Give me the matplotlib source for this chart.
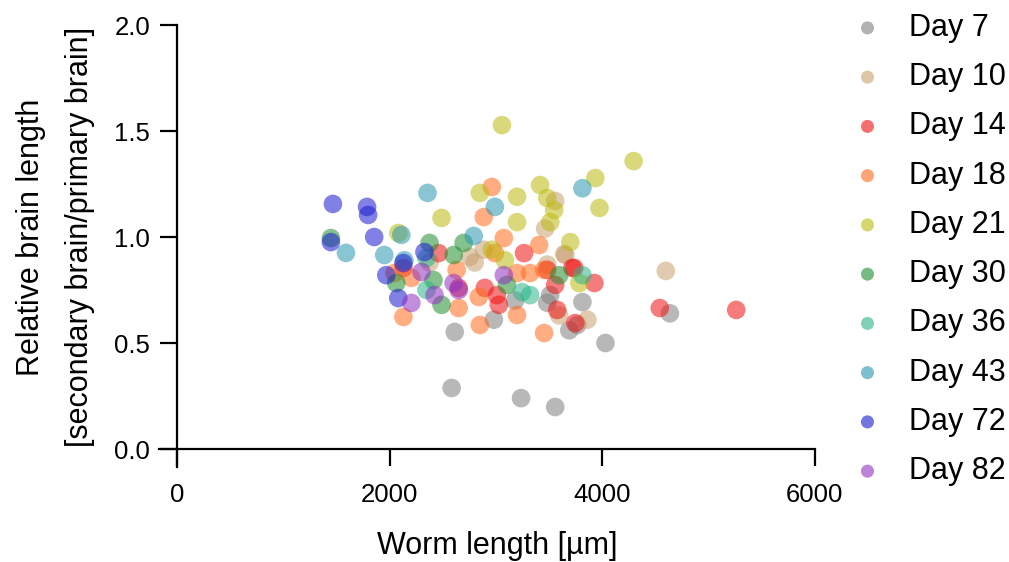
import matplotlib.pyplot as plt

plt.rcParams['font.family'] = ['Liberation Sans', 'DejaVu Sans']

days = ['Day 7', 'Day 10', 'Day 14', 'Day 18', 'Day 21',
        'Day 30', 'Day 36', 'Day 43', 'Day 72', 'Day 82']
colors = ['#7f7f7f', '#c8a070', '#ee1111', '#ff6a1a', '#bbbb11',
          '#1f8f2f', '#2ab58a', '#2a96b2', '#1a1ad0', '#9030c0']

# worm length [um] and relative brain length per day
day7_x = [2583, 3236, 3557, 2612, 2980, 4030, 4636, 3813, 3179, 3510, 3482, 3690, 3765]
day7_y = [0.288, 0.24, 0.198, 0.552, 0.61, 0.50, 0.64, 0.693, 0.70, 0.726, 0.69, 0.56, 0.585]

day10_x = [4598, 3860, 3463, 3557, 3652, 2885, 2800, 2753, 3482, 2375, 3595, 3642]
day10_y = [0.84, 0.61, 1.04, 1.17, 0.915, 0.94, 0.88, 0.906, 0.87, 0.88, 0.63, 0.92]

day14_x = [5260, 4541, 3926, 3737, 3264, 3557, 3576, 3746, 3027, 2895, 2649, 3008,
           2129, 2460, 3482, 3718]
day14_y = [0.656, 0.665, 0.783, 0.854, 0.924, 0.774, 0.656, 0.594, 0.68, 0.76, 0.76,
           0.726, 0.854, 0.924, 0.845, 0.854]

day18_x = [2961, 2885, 3074, 2129, 2848, 3198, 3453, 2630, 2990, 3406, 3321, 3198,
           2204, 2649, 2838, 3453, 2044]
day18_y = [1.236, 1.094, 0.995, 0.623, 0.585, 0.632, 0.547, 0.845, 0.924, 0.962, 0.83,
           0.83, 0.807, 0.665, 0.717, 0.845, 0.83]

day21_x = [3056, 4295, 3935, 3973, 3699, 3415, 3482, 3548, 3510, 3198, 3198, 2848,
           2488, 2081, 3784, 2961, 3084]
day21_y = [1.528, 1.358, 1.278, 1.137, 0.976, 1.245, 1.184, 1.127, 1.07, 1.19, 1.07,
           1.208, 1.09, 1.019, 0.783, 0.94, 0.89]

day30_x = [1447, 2375, 2696, 2412, 2488, 3103, 2062, 3595, 2602]
day30_y = [0.995, 0.972, 0.972, 0.797, 0.68, 0.774, 0.783, 0.82, 0.915]

day36_x = [3321, 3813, 2346, 3245, 2346]
day36_y = [0.726, 0.82, 0.90, 0.74, 0.75]

day43_x = [1589, 2356, 2990, 3813, 2791, 1949, 2138, 2110]
day43_y = [0.925, 1.208, 1.142, 1.23, 1.005, 0.915, 0.89, 1.01]

day72_x = [1466, 1787, 1797, 1854, 1447, 1968, 2081, 2327, 2129]
day72_y = [1.156, 1.142, 1.104, 1.0, 0.976, 0.82, 0.712, 0.929, 0.877]

day82_x = [2204, 2299, 3074, 2602, 2649, 2422]
day82_y = [0.689, 0.835, 0.82, 0.783, 0.75, 0.726]

xs = [day7_x, day10_x, day14_x, day18_x, day21_x, day30_x, day36_x, day43_x, day72_x, day82_x]
ys = [day7_y, day10_y, day14_y, day18_y, day21_y, day30_y, day36_y, day43_y, day72_y, day82_y]

fig = plt.figure(figsize=(10.09, 5.62), dpi=100)
ax = fig.add_axes([0.1576, 0.169, 0.650, 0.7865])

for label, c, x, y in zip(days, colors, xs, ys):
    ax.scatter(x, y, s=180, color=c, alpha=0.55, edgecolors='none', label=label)

ax.set_xlim(-170, 6000)
ax.set_ylim(-0.085, 2.0)
ax.set_xticks([0, 2000, 4000, 6000])
ax.set_yticks([0.0, 0.5, 1.0, 1.5, 2.0])
ax.set_yticklabels(['0.0', '0.5', '1.0', '1.5', '2.0'])

# axes cross at the origin, like a Prism-style plot
ax.spines['left'].set_position(('data', 0))
ax.spines['bottom'].set_position(('data', 0))
ax.spines['top'].set_visible(False)
ax.spines['right'].set_visible(False)
for sp in ['left', 'bottom']:
    ax.spines[sp].set_linewidth(1.6)
ax.tick_params(axis='both', direction='out', length=12.5, width=1.6, labelsize=18.5)
ax.tick_params(axis='y', pad=7)
ax.tick_params(axis='x', pad=12)

ax.set_xlabel('Worm length [µm]', fontsize=22)
ax.xaxis.set_label_coords(0.515, -0.145)
ax.set_ylabel('Relative brain length\n[secondary brain/primary brain]',
              fontsize=22, linespacing=1.8)
ax.yaxis.set_label_coords(-0.098, 0.52)

leg = ax.legend(loc='upper left', bbox_to_anchor=(1.015, 1.055), frameon=False,
                fontsize=22, markerscale=0.7, labelspacing=0.63,
                handlelength=2.0, handletextpad=0.37, borderaxespad=0)
for h in leg.legend_handles:
    h.set_alpha(0.6)

fig.savefig('out.png', dpi=100)
